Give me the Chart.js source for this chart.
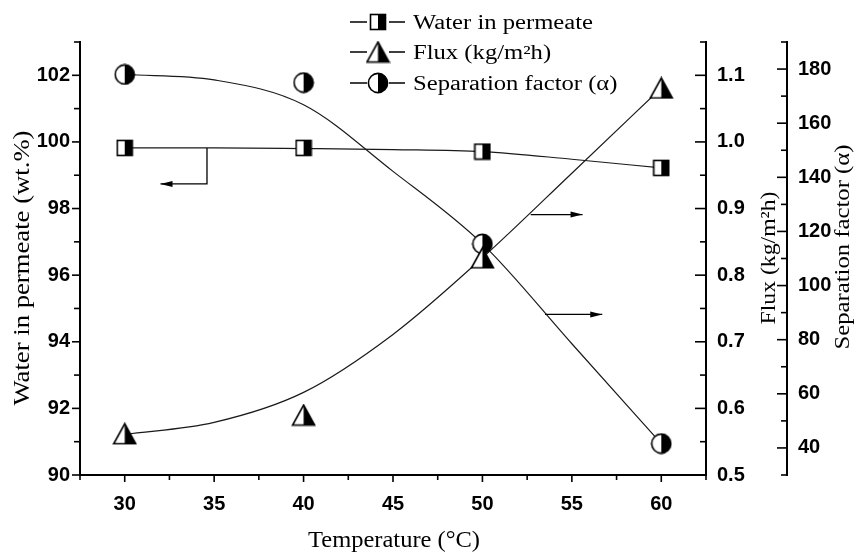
<!DOCTYPE html>
<html><head><meta charset="utf-8">
<script src="https://cdn.jsdelivr.net/npm/chart.js@4.4.1/dist/chart.umd.min.js"></script>
<style>html,body{margin:0;padding:0;background:#fff}#wrap{width:858px;height:552px;position:relative}</style>
</head><body><div id="wrap"><canvas id="c"></canvas></div>
<script>
// ---- data ----
const temperatures = [30, 40, 50, 60];
const waterInPermeate = [99.82, 99.82, 99.71, 99.22];
const flux = [0.562, 0.59, 0.826, 1.081];
const separationFactor = [178, 175, 115.4, 41.6];
// fitted curves
const fitTemperatures = [30, 35, 40, 45, 50, 55, 60];
const waterFit = [99.82, 99.82, 99.80, 99.77, 99.71, 99.48, 99.22];
const fluxFit = [0.561, 0.579, 0.624, 0.711, 0.826, 0.953, 1.081];
const separationFit = [178, 176, 166.8, 142.2, 115.4, 78.5, 41.6];
// tick labels
const xTicks = [30, 35, 40, 45, 50, 55, 60];
const waterTicks = [90, 92, 94, 96, 98, 100, 102];
const fluxTicks = [0.5, 0.6, 0.7, 0.8, 0.9, 1.0, 1.1];
const sepTicks = [40, 60, 80, 100, 120, 140, 160, 180];
const seriesNames = ['Water in permeate', 'Flux (kg/m\u00B2h)', 'Separation factor (\u03B1)'];
const axisTitles = {x: 'Temperature (\u00B0C)', water: 'Water in permeate (wt.%)', flux: 'Flux (kg/m\u00B2h)', sep: 'Separation factor (\u03B1)'};
// annotation arrows, in data coordinates
const arrows = [
  {axis: 'yW', pts: [[34.6, 99.82], [34.6, 98.74], [32.0, 98.74]]},
  {axis: 'yF', pts: [[52.7, 0.891], [55.6, 0.891]]},
  {axis: 'yF', pts: [[53.5, 0.741], [56.7, 0.741]]}
];

function marker(shape) {
  const c = document.createElement('canvas');
  const g = c.getContext('2d');
  if (shape === 'square') {
    c.width = 18; c.height = 18;
    g.fillStyle = '#fff'; g.fillRect(1, 1, 16, 16);
    g.fillStyle = '#000'; g.fillRect(9, 1, 8, 16);
    g.lineWidth = 1.6; g.strokeStyle = '#000'; g.strokeRect(1.5, 1.5, 15, 15);
  } else if (shape === 'circle') {
    c.width = 22; c.height = 22;
    g.beginPath(); g.arc(11, 11, 9.6, 0, Math.PI * 2); g.fillStyle = '#fff'; g.fill();
    g.beginPath(); g.arc(11, 11, 9.6, -Math.PI / 2, Math.PI / 2); g.closePath(); g.fillStyle = '#000'; g.fill();
    g.beginPath(); g.arc(11, 11, 9.6, 0, Math.PI * 2); g.lineWidth = 1.6; g.strokeStyle = '#000'; g.stroke();
  } else {
    c.width = 25; c.height = 23;
    g.beginPath(); g.moveTo(12.5, 1.5); g.lineTo(23.5, 21.5); g.lineTo(1.5, 21.5); g.closePath();
    g.fillStyle = '#fff'; g.fill();
    g.beginPath(); g.moveTo(12.5, 1.5); g.lineTo(23.5, 21.5); g.lineTo(12.5, 21.5); g.closePath();
    g.fillStyle = '#000'; g.fill();
    g.beginPath(); g.moveTo(12.5, 1.5); g.lineTo(23.5, 21.5); g.lineTo(1.5, 21.5); g.closePath();
    g.lineWidth = 1.6; g.lineJoin = 'miter'; g.strokeStyle = '#000'; g.stroke();
  }
  return c;
}
const mSquare = marker('square'), mTri = marker('triangle'), mCircle = marker('circle');

const toXY = (xs, ys) => xs.map((x, i) => ({x: x, y: ys[i]}));
const lineDs = (data, axis) => ({type: 'line', data: toXY(fitTemperatures, data), yAxisID: axis, borderColor: '#1a1a1a', borderWidth: 1.2, pointRadius: 0, fill: false, cubicInterpolationMode: 'monotone', order: 2});
const ptDs = (label, data, axis, img) => ({label: label, data: toXY(temperatures, data), yAxisID: axis, showLine: false, pointStyle: img, pointRadius: 10, order: 0});

const tickFont = {family: '"Liberation Sans", Arial, sans-serif', size: 20, weight: 'bold'};
function yAxis(pos, min, max, ticks, width, weight, fmt) {
  return {
    type: 'linear', position: pos, min: min, max: max, weight: weight,
    grid: {display: false, drawTicks: false, tickLength: 0}, border: {display: true, color: '#000', width: 2},
    afterBuildTicks: s => { s.ticks = ticks.map(v => ({value: v})); },
    afterFit: s => { s.width = width; },
    ticks: {color: '#000', font: tickFont, padding: pos === 'left' ? 10 : 11, callback: fmt || (v => String(v))}
  };
}

// draws text stretched along its run to a given length (the reference's type is wider than its height)
function stretchText(ctx, text, x, y, px, len, rot) {
  ctx.save();
  ctx.font = px + 'px "Liberation Serif", "Times New Roman", serif';
  const w = ctx.measureText(text).width;
  ctx.translate(x, y); ctx.rotate(rot || 0);
  ctx.scale(len / w, 1);
  ctx.textAlign = 'center'; ctx.textBaseline = 'alphabetic';
  ctx.fillText(text, 0, 0);
  ctx.restore();
}

const decorPlugin = {
  id: 'decor',
  afterDraw(chart) {
    const ctx = chart.ctx, sc = chart.scales;
    ctx.save();
    ctx.strokeStyle = '#000'; ctx.fillStyle = '#000'; ctx.lineWidth = 1.6;
    // tick marks
    const xs = sc.x, ca = chart.chartArea;
    for (let i = 0; i <= 14; i++) {
      const r = xs.min + i * 2.5;
      const major = Math.abs(r / 5 - Math.round(r / 5)) < 1e-6;
      const px = xs.getPixelForValue(r);
      ctx.beginPath(); ctx.moveTo(px, ca.bottom); ctx.lineTo(px, ca.bottom + (major ? 7 : 5)); ctx.stroke();
    }
    const vtick = (id, step, major, dir, len, len2) => {
      const s = sc[id];
      const x0 = id === 'yW' ? s.right : s.left;
      const n = Math.round((s.max - s.min) / step);
      for (let i = 0; i <= n; i++) {
        const v = s.min + i * step;
        const isMaj = Math.abs(v / major - Math.round(v / major)) < 1e-6;
        const py = s.getPixelForValue(v);
        ctx.beginPath(); ctx.moveTo(x0, py); ctx.lineTo(x0 + dir * (isMaj ? len : len2), py); ctx.stroke();
      }
    };
    vtick('yW', 1, 2, -1, 8, 6);
    vtick('yF', 0.05, 0.1, -1, 11, 6);
    vtick('yS', 10, 20, -1, 10, 6);
    // arrows
    ctx.lineWidth = 1.3;
    arrows.forEach(a => {
      const p = a.pts.map(q => [sc.x.getPixelForValue(q[0]), sc[a.axis].getPixelForValue(q[1])]);
      ctx.beginPath(); ctx.moveTo(p[0][0], p[0][1]);
      for (let i = 1; i < p.length; i++) ctx.lineTo(p[i][0], p[i][1]);
      ctx.stroke();
      const [ex, ey] = p[p.length - 1], [sx, sy] = p[p.length - 2];
      const ang = Math.atan2(ey - sy, ex - sx);
      ctx.beginPath(); ctx.moveTo(ex, ey);
      ctx.lineTo(ex - 12 * Math.cos(ang) + 3 * Math.sin(ang), ey - 12 * Math.sin(ang) - 3 * Math.cos(ang));
      ctx.lineTo(ex - 12 * Math.cos(ang) - 3 * Math.sin(ang), ey - 12 * Math.sin(ang) + 3 * Math.cos(ang));
      ctx.closePath(); ctx.fill();
    });
    // axis titles
    stretchText(ctx, axisTitles.x, 394, 547, 23, 172, 0);
    stretchText(ctx, axisTitles.water, 29, 268, 23, 275, -Math.PI / 2);
    stretchText(ctx, axisTitles.flux, 775, 258, 21, 133, -Math.PI / 2);
    stretchText(ctx, axisTitles.sep, 849, 247, 20, 205, -Math.PI / 2);
    // legend
    const imgs = [mSquare, mTri, mCircle];
    const rows = [22, 52, 83];
    ctx.font = '20px "Liberation Serif", "Times New Roman", serif';
    const k = 180 / ctx.measureText(seriesNames[0]).width;
    rows.forEach((y, i) => {
      ctx.lineWidth = 1.5;
      ctx.beginPath(); ctx.moveTo(350, y); ctx.lineTo(367, y); ctx.moveTo(389, y); ctx.lineTo(405, y); ctx.stroke();
      const im = imgs[i];
      ctx.drawImage(im, 378 - im.width / 2, y - im.height / 2);
      ctx.save();
      ctx.translate(413, y + 7); ctx.scale(k, 1);
      ctx.textAlign = 'left'; ctx.textBaseline = 'alphabetic';
      ctx.fillText(seriesNames[i], 0, 0);
      ctx.restore();
    });
    ctx.restore();
  }
};

new Chart(document.getElementById('c'), {
  type: 'scatter',
  data: {datasets: [
    ptDs(seriesNames[0], waterInPermeate, 'yW', mSquare),
    ptDs(seriesNames[1], flux, 'yF', mTri),
    ptDs(seriesNames[2], separationFactor, 'yS', mCircle),
    lineDs(waterFit, 'yW'), lineDs(fluxFit, 'yF'), lineDs(separationFit, 'yS')
  ]},
  options: {
    responsive: true, maintainAspectRatio: false, animation: false,
    layout: {padding: {top: 42, left: 0, right: 0, bottom: 0}},
    plugins: {legend: {display: false}, tooltip: {enabled: false}},
    scales: {
      x: {
        type: 'linear', position: 'bottom', min: 27.5, max: 62.5,
        grid: {display: false, drawTicks: false, tickLength: 0}, border: {display: true, color: '#000', width: 2},
        afterBuildTicks: s => { s.ticks = xTicks.map(v => ({value: v})); },
        afterFit: s => { s.height = 77; },
        ticks: {color: '#000', font: tickFont, padding: 17}
      },
      yW: yAxis('left', 90, 103, waterTicks, 80, 0),
      yF: yAxis('right', 0.5, 1.15, fluxTicks, 81, 0, v => v.toFixed(1)),
      yS: yAxis('right', 30, 190, sepTicks, 71, 1)
    }
  },
  plugins: [decorPlugin]
});
</script></body></html>
